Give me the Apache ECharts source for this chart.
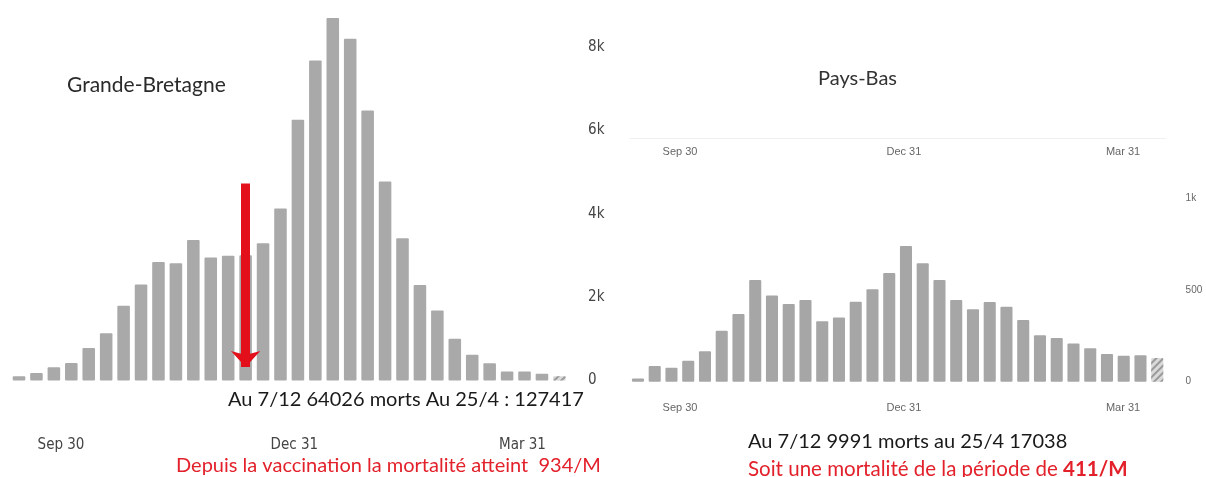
<!DOCTYPE html>
<html><head><meta charset="utf-8">
<script src="https://cdn.jsdelivr.net/npm/echarts@6/dist/echarts.min.js"></script>
<style>html,body{margin:0;padding:0;background:#fff}#c{width:1206px;height:477px}</style>
</head><body><div id="c"></div>
<script>
// weekly categories (week start)
const weeks = ['2020-09-13','2020-09-20','2020-09-27','2020-10-04','2020-10-11','2020-10-18','2020-10-25','2020-11-01',
  '2020-11-08','2020-11-15','2020-11-22','2020-11-29','2020-12-06','2020-12-13','2020-12-20','2020-12-27',
  '2021-01-03','2021-01-10','2021-01-17','2021-01-24','2021-01-31','2021-02-07','2021-02-14','2021-02-21',
  '2021-02-28','2021-03-07','2021-03-14','2021-03-21','2021-03-28','2021-04-04','2021-04-11','2021-04-18'];
// Grande-Bretagne weekly deaths
const gbDeaths = [100,180,320,420,780,1135,1790,2300,2840,2810,3370,2950,2990,3000,3290,4120,
  6250,7670,8690,8190,6470,4770,3410,2290,1680,1000,615,415,215,215,160,100];
// Pays-Bas weekly deaths
const nlDeaths = [17,86,76,115,166,278,369,555,471,424,446,330,351,436,504,593,
  740,646,555,446,395,435,409,337,253,238,209,182,151,142,144,129];
// date tick labels (days after Sep 30)
const dateTickLabels = ['Sep 30','Dec 31','Mar 31'];
const dateTickDays = [0, 92, 182];
// y tick labels
const gbYTickValues = [0,2000,4000,6000,8000];
const gbYTickLabels = ['0','2k','4k','6k','8k'];
const nlYTickValues = [0,500,1000];
const nlYTickLabels = ['0','500','1k'];
// vaccination arrow (week index, from value, to value)
const arrowWeek = 13, arrowFrom = 4720, arrowTo = 324;

const narrow = '"Liberation Sans Narrow","DejaVu Sans Condensed","Arial Narrow",sans-serif';
const calib = 'Lato, "Open Sans", sans-serif';
const hatch = {color:'#d9d9d9', decal:{symbol:'rect', color:'#9a9a9a', dashArrayX:[1,0], dashArrayY:[1.5,2.5], rotation:-Math.PI/4, symbolSize:1}};
const withHatch = arr => arr.map((v,i)=> i===arr.length-1 ? {value:v, itemStyle:hatch} : v);
const lab = (vals, labels) => v => { const i = vals.indexOf(v); return i>=0 ? labels[i] : ''; };

const chart = echarts.init(document.getElementById('c'), null, {renderer:'canvas'});
chart.setOption({
  animation:false,
  backgroundColor:'#fff',
  title:[
    {text:'Grande-Bretagne', left:67, top:75, padding:0, textStyle:{fontFamily:calib, fontSize:21, fontWeight:'normal', color:'#2a2a2a'}},
    {text:'Pays-Bas', left:818, top:69, padding:0, textStyle:{fontFamily:calib, fontSize:20, fontWeight:'normal', color:'#333'}},
    {text:'Au 7/12 64026 morts Au 25/4 : 127417', left:228, top:390, padding:0, textStyle:{fontFamily:calib, fontSize:20, fontWeight:'normal', color:'#1a1a1a'}},
    {text:'Depuis la vaccination la mortalité atteint  934/M', left:176, top:456, padding:0, textStyle:{fontFamily:calib, fontSize:20, fontWeight:'normal', color:'#e3212b'}},
    {text:'Au 7/12 9991 morts au 25/4 17038', left:748, top:432, padding:0, textStyle:{fontFamily:calib, fontSize:20, fontWeight:'normal', color:'#1a1a1a'}},
    {text:'Soit une mortalité de la période de {b|411/M}', left:748, top:459, padding:0, textStyle:{fontFamily:calib, fontSize:20.5, fontWeight:'normal', color:'#e3212b', rich:{b:{fontFamily:calib, fontSize:20.5, fontWeight:'bold', color:'#e3212b'}}}}
  ],
  grid:[
    {left:10.3, top:5, width:557.8, height:375.5},
    {left:629.6, top:138, width:536, height:243.7}
  ],
  xAxis:[
    {type:'category', gridIndex:0, data:weeks, axisLine:{show:false}, axisTick:{show:false}, axisLabel:{show:false}},
    {type:'value', gridIndex:0, position:'bottom', min:-20, max:200, axisLine:{show:false}, axisTick:{show:false}, splitLine:{show:false},
      axisLabel:{customValues:dateTickDays, formatter:lab(dateTickDays,dateTickLabels), margin:57, fontFamily:narrow, fontSize:15, lineHeight:15, color:'#444'}},
    {type:'category', gridIndex:1, data:weeks, axisLine:{show:false}, axisTick:{show:false}, axisLabel:{show:false}},
    {type:'value', gridIndex:1, position:'bottom', min:-20.7, max:199.5, axisLine:{show:false}, axisTick:{show:false}, splitLine:{show:false},
      axisLabel:{customValues:dateTickDays, formatter:lab(dateTickDays,dateTickLabels), margin:21, fontFamily:'"Liberation Sans",sans-serif', fontSize:11, lineHeight:11, color:'#666'}},
    {type:'value', gridIndex:1, position:'top', min:-20.7, max:199.5, axisLine:{show:true, lineStyle:{color:'#f0f0f0', width:1}}, axisTick:{show:false}, splitLine:{show:false},
      axisLabel:{inside:true, customValues:dateTickDays, formatter:lab(dateTickDays,dateTickLabels), margin:8, fontFamily:'"Liberation Sans",sans-serif', fontSize:11, lineHeight:11, color:'#666'}}
  ],
  yAxis:[
    {type:'value', gridIndex:0, position:'right', min:0, max:9000, axisLine:{show:false}, axisTick:{show:false}, splitLine:{show:false},
      axisLabel:{customValues:gbYTickValues, formatter:lab(gbYTickValues,gbYTickLabels), margin:20, fontFamily:narrow, fontSize:15, color:'#444'}},
    {type:'value', gridIndex:1, position:'right', min:0, max:1330, axisLine:{show:false}, axisTick:{show:false}, splitLine:{show:false},
      axisLabel:{customValues:nlYTickValues, formatter:lab(nlYTickValues,nlYTickLabels), margin:20, fontFamily:'"Liberation Sans",sans-serif', fontSize:10, color:'#666'}}
  ],
  series:[
    {type:'bar', xAxisIndex:0, yAxisIndex:0, data:withHatch(gbDeaths), barWidth:'72%', itemStyle:{color:'#a9a9a9', borderRadius:1}, silent:true,
      markLine:{silent:true, symbol:['none','arrow'], symbolSize:[22,16], label:{show:false}, emphasis:{disabled:true},
        lineStyle:{color:'#e3101b', width:9, type:'solid', opacity:1},
        data:[[{coord:[weeks[arrowWeek], arrowFrom]},{coord:[weeks[arrowWeek], arrowTo]}]]}},
    {type:'bar', xAxisIndex:2, yAxisIndex:1, data:withHatch(nlDeaths), barWidth:'72%', itemStyle:{color:'#a6a6a6', borderRadius:1}, silent:true}
  ]
});
</script></body></html>
